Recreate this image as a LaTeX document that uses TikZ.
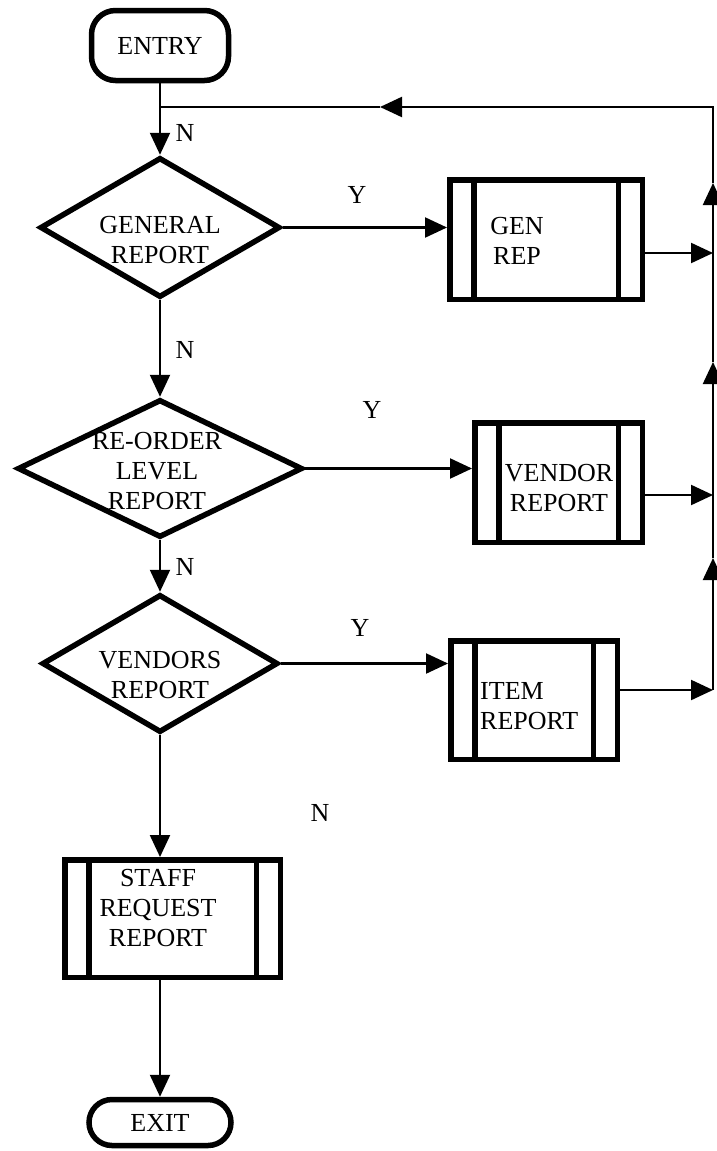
\documentclass[tikz,border=0pt]{standalone}
\usepackage{fontspec}
\setmainfont{Liberation Serif}
\usetikzlibrary{shapes.geometric,arrows.meta,calc}
\begin{document}
\begin{tikzpicture}[x=1pt,y=-1pt,
  lbl/.style={font=\fontsize{26}{30}\selectfont, align=center, inner sep=0pt},
  term/.style={draw, line width=5.5pt, rounded corners=24pt, inner sep=0pt, font=\fontsize{26}{30}\selectfont},
  dec/.style={draw, diamond, line width=5.5pt, inner sep=0pt},
  proc/.style={draw, rectangle, line width=5.5pt, inner sep=0pt,
    path picture={
      \draw[line width=5.5pt] ([xshift=24pt]path picture bounding box.north west) -- ([xshift=24pt]path picture bounding box.south west);
      \draw[line width=5.5pt] ([xshift=-24pt]path picture bounding box.north east) -- ([xshift=-24pt]path picture bounding box.south east);
    }},
  conn/.style={line width=2.2pt, -{Triangle[length=22pt,width=20pt]}},
  plain/.style={line width=2.2pt}
]
\useasboundingbox (0,0) rectangle (717,1151);

% shapes
\node[term, minimum width=137pt, minimum height=70pt] (entry) at (160,45.5) {ENTRY};
\node[term, minimum width=142pt, minimum height=46pt, rounded corners=23pt] (exit) at (160,1122.5) {EXIT};

\node[dec, minimum width=240pt, minimum height=140pt] (d1) at (160,227.5) {};
\node[dec, minimum width=285pt, minimum height=138pt] (d2) at (160,468.5) {};
\node[dec, minimum width=236pt, minimum height=138pt] (d3) at (160,663.5) {};

\node[proc, minimum width=192.5pt, minimum height=119.5pt] (genrep) at (546,239.5) {};
\node[proc, minimum width=167.5pt, minimum height=119.5pt] (vendor) at (558.5,482.5) {};
\node[proc, minimum width=166.5pt, minimum height=118.5pt] (item) at (534,700) {};
\node[proc, minimum width=215.5pt, minimum height=117.5pt] (staff) at (172.5,918.5) {};

% texts
\node[lbl] (t1) at (160,240) {GENERAL\\REPORT};
\node[lbl] (t2) at (157,471) {RE-ORDER\\LEVEL\\REPORT};
\node[lbl] (t3) at (160,675) {VENDORS\\REPORT};
\node[lbl] (tg) at (517,241) {GEN\\REP};
\node[lbl] (tv) at (559,488) {VENDOR\\REPORT};
\node[lbl, anchor=west, align=left] (ti) at (480,706) {ITEM\\REPORT};
\node[lbl] (ts) at (158,908) {STAFF\\REQUEST\\REPORT};

% labels
\node[lbl] (n1) at (185,133) {N};
\node[lbl] (n2) at (185,350) {N};
\node[lbl] (n3) at (185,567) {N};
\node[lbl] (n4) at (320,813) {N};
\node[lbl] (y1) at (357,195) {Y};
\node[lbl] (y2) at (372,410) {Y};
\node[lbl] (y3) at (360,628) {Y};

% coordinates for the return line
\coordinate (rItem) at (713,690);
\coordinate (rVen) at (713,495);
\coordinate (rGen) at (713,253);
\coordinate (rTop) at (713,107);
\coordinate (up3) at (713,558);
\coordinate (up2) at (713,362);
\coordinate (up1) at (713,183);
\coordinate (fbArr) at (380,107);
\coordinate (junc) at (160,107);

% main flow
\draw[conn] (entry.south) -- (d1.north);
\draw[conn] (d1.south) -- (d2.north);
\draw[conn] (d2.south) -- (d3.north);
\draw[conn] (d3.south) -- (d3.south |- staff.north);
\draw[conn] (exit.north |- staff.south) -- (exit.north);

% yes branches
\draw[conn] (d1.east) -- (d1.east -| genrep.west);
\draw[conn] (d2.east) -- (d2.east -| vendor.west);
\draw[conn] (d3.east) -- (d3.east -| item.west);

% outputs to return line
\draw[conn] (genrep.east |- rGen) -- (rGen);
\draw[conn] (vendor.east |- rVen) -- (rVen);
\draw[conn] (item.east |- rItem) -- (rItem);

% return line
\draw[conn] (rItem) -- (up3);
\draw[plain] (up3) -- (rVen);
\draw[conn] (rVen) -- (up2);
\draw[plain] (up2) -- (rGen);
\draw[conn] (rGen) -- (up1);
\draw[conn] (up1) -- (rTop) -- (fbArr);
\draw[plain] (fbArr) -- (junc);
\end{tikzpicture}
\end{document}
